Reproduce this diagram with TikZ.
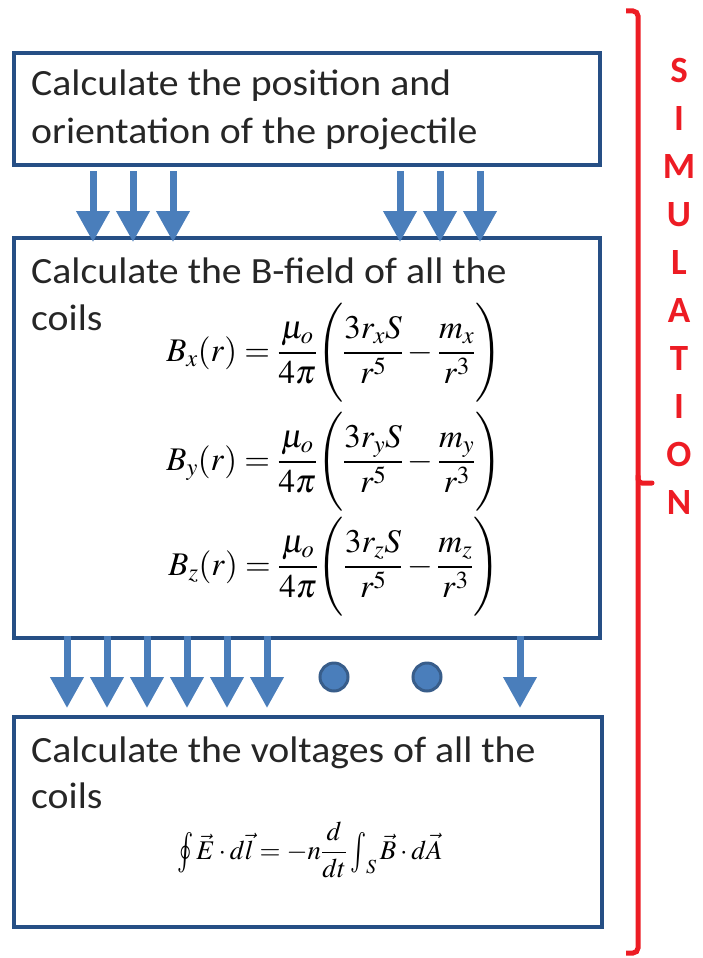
\documentclass[tikz,border=0pt]{standalone}
\usepackage{mathptmx}
\usepackage[no-math]{fontspec}
\setmainfont{Carlito}
\newfontfamily\boxfont[FakeStretch=1.075]{Carlito}
\usetikzlibrary{arrows.meta}
\definecolor{boxblue}{HTML}{264F85}
\definecolor{arrowblue}{HTML}{4A7EBB}
\definecolor{dotedge}{HTML}{385D8A}
\definecolor{simred}{HTML}{ED1C24}
\newcommand\myoint{\mathop{\vcenter{\hbox{\scalebox{1}[1.5]{$\oint$}}}}}
\newcommand\myint{\mathop{\vcenter{\hbox{\scalebox{1}[1.5]{$\int$}}}}\nolimits}
\tikzset{
  stepbox/.style={draw=boxblue, line width=4.5pt, rectangle, inner sep=0pt},
  boxtext/.style={anchor=base west, inner sep=0pt, font=\boxfont\fontsize{37}{48}\selectfont, text=black!85},
  barrow/.style={draw=arrowblue, line width=7pt, -{Triangle[width=32pt,length=31pt]}, arrowblue},
  formula/.style={inner sep=0pt, font=\fontsize{33}{40}\selectfont},
  dotnode/.style={circle, fill=arrowblue, draw=dotedge, line width=3pt, minimum size=28pt, inner sep=0pt},
}
\begin{document}
\begin{tikzpicture}[x=1pt,y=-1pt]
\useasboundingbox (0,0) rectangle (702,958);
% boxes
\node[stepbox, minimum width=586pt, minimum height=112pt] (b1) at (307,109) {};
\node[stepbox, minimum width=586pt, minimum height=400pt] (b2) at (307,438) {};
\node[stepbox, minimum width=588pt, minimum height=210pt] (b3) at (308,822) {};
% box texts
\node[boxtext] (t1a) at (31,95) {Calculate the position and};
\node[boxtext] (t1b) at (31,143) {orientation of the projectile};
\node[boxtext] (t2a) at (31,283) {Calculate the B-field of all the};
\node[boxtext] (t2b) at (31,330) {coils};
\node[boxtext] (t3a) at (31,762) {Calculate the voltages of all the};
\node[boxtext] (t3b) at (31,808) {coils};
% formulas
\node[formula] (fx) at (334,353) {$\displaystyle B_x(r)=\frac{\mu_o}{4\pi}\Biggl(\frac{3r_xS}{r^5}-\frac{m_x}{r^3}\Biggr)$};
\node[formula] (fy) at (334,462) {$\displaystyle B_y(r)=\frac{\mu_o}{4\pi}\Biggl(\frac{3r_yS}{r^5}-\frac{m_y}{r^3}\Biggr)$};
\node[formula] (fz) at (334,567) {$\displaystyle B_z(r)=\frac{\mu_o}{4\pi}\Biggl(\frac{3r_zS}{r^5}-\frac{m_z}{r^3}\Biggr)$};
\node[formula, font=\fontsize{27}{32}\selectfont] (fe) at (310,850) {$\displaystyle\myoint\vec E\cdot d\vec l=-n\frac{d}{dt}\myint_S\vec B\cdot d\vec A$};
% top arrows
\foreach \xx/\nm in {93/a1,133/a2,173/a3,400/a4,440/a5,480/a6}{
  \coordinate (\nm s) at (\xx,171);
  \coordinate (\nm e) at (\xx,242);
  \draw[barrow] (\nm s) -- (\nm e);
}
% bottom arrows
\foreach \xx/\nm in {67/c1,107/c2,147/c3,187/c4,227/c5,267/c6,520/c7}{
  \coordinate (\nm s) at (\xx,636);
  \coordinate (\nm e) at (\xx,708);
  \draw[barrow] (\nm s) -- (\nm e);
}
% dots
\node[dotnode] (d1) at (334,677) {};
\node[dotnode] (d2) at (427,677) {};
% brace
\draw[simred, line width=5pt, rounded corners=5pt] (626,11) -- (638,11) -- (638,953) -- (626,953);
\draw[simred, line width=5pt, line cap=round, rounded corners=4pt] (638,476) -- (638,483) -- (652,483);
\node[text=simred, font=\fontsize{37}{48}\selectfont\bfseries, align=center, inner sep=0pt] (sim) at (679,286) {S\\I\\M\\U\\L\\A\\T\\I\\O\\N};
\end{tikzpicture}
\end{document}
